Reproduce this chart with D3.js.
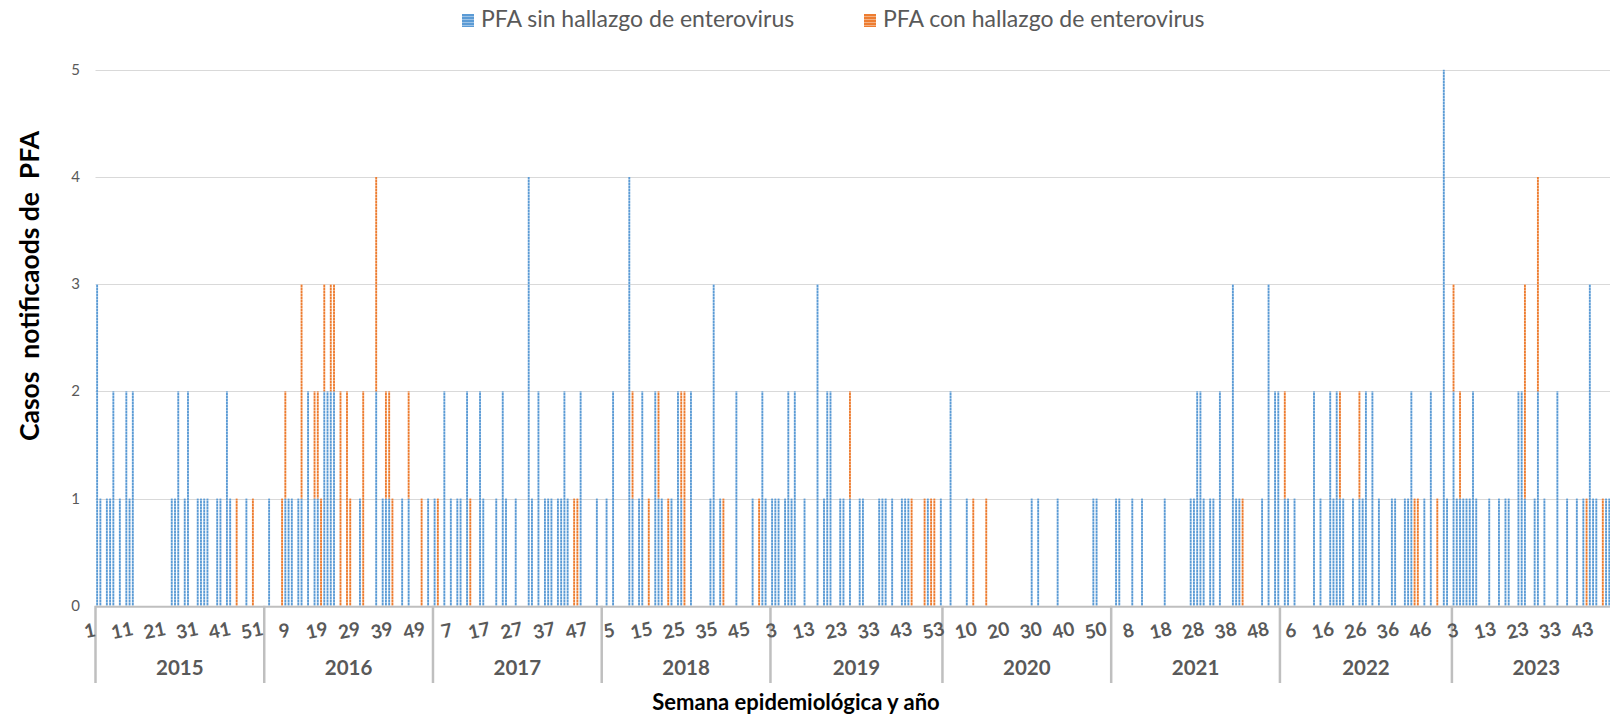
<!DOCTYPE html>
<html>
<head>
<meta charset="utf-8">
<script src="https://cdn.jsdelivr.net/npm/d3@7"></script>
<style>
  body { margin: 0; background: #fff; }
  text { font-family: Lato, "Open Sans", sans-serif; }
</style>
</head>
<body>
<div id="chart"></div>
<script>
// ======= weekly counts, one array per year (sin = without enterovirus, con = with enterovirus)
var years = ["2015", "2016", "2017", "2018", "2019", "2020", "2021", "2022", "2023"];

var sin2015 = [3,1,0,1,1,2,0,1,0,2, 1,2,0,0,0,0,0,0,0,0, 0,0,0,1,1,2,0,1,2,0, 0,1,1,1,1,0,0,1,1,0, 2,1,0,0,0,0,1,0,0,0, 0,0];
var con2015 = [0,0,0,0,0,0,0,0,0,0, 0,0,0,0,0,0,0,0,0,0, 0,0,0,0,0,0,0,0,0,0, 0,0,0,0,0,0,0,0,0,0, 0,0,0,1,0,0,0,0,1,0, 0,0];
var sin2016 = [0,1,0,0,0,0,1,1,1,0, 1,1,0,2,0,1,1,0,2,2, 2,2,0,0,0,0,0,0,0,1, 0,0,0,0,2,0,1,1,1,0, 0,0,1,0,1,0,0,0,0,0, 1,0];
var con2016 = [0,0,0,0,0,1,1,0,0,0, 0,2,0,0,0,1,1,1,1,0, 1,1,0,2,0,2,1,0,0,0, 2,0,0,0,2,0,0,1,1,1, 0,0,0,0,1,0,0,0,1,0, 0,0];
var sin2017 = [1,0,0,2,0,1,0,1,1,0, 2,0,0,0,2,1,0,0,0,1, 0,2,1,0,0,1,0,0,0,4, 1,0,2,0,1,1,1,0,1,1, 2,1,0,0,0,2,0,0,0,0, 1,0];
var con2017 = [0,1,0,0,0,0,0,0,0,0, 0,1,0,0,0,0,0,0,0,0, 0,0,0,0,0,0,0,0,0,0, 0,0,0,0,0,0,0,0,0,0, 0,0,0,1,1,0,0,0,0,0, 0,0];
var sin2018 = [0,1,0,2,0,0,0,0,4,1, 0,1,2,0,0,0,2,1,1,0, 0,1,0,2,1,0,0,2,0,0, 0,0,0,1,3,0,1,0,0,0, 0,2,0,0,0,0,1,0,0,2, 1,0];
var con2018 = [0,0,0,0,0,0,0,0,0,1, 0,0,0,0,1,0,0,1,0,0, 1,0,0,0,1,2,0,0,0,0, 0,0,0,0,0,0,0,1,0,0, 0,0,0,0,0,0,0,0,1,0, 0,0];
var sin2019 = [1,1,1,0,1,2,1,2,0,0, 1,0,0,0,3,0,1,2,2,0, 0,1,1,0,1,0,0,1,1,0, 0,0,0,1,1,1,0,1,0,0, 1,1,1,0,0,0,0,0,1,0, 0,0,1];
var con2019 = [0,0,0,0,0,0,0,0,0,0, 0,0,0,0,0,0,0,0,0,0, 0,0,0,0,1,0,0,0,0,0, 0,0,0,0,0,0,0,0,0,0, 0,0,0,1,0,0,0,1,0,1, 1,0,0];
var sin2020 = [0,0,2,0,0,0,0,1,0,0, 0,0,0,0,0,0,0,0,0,0, 0,0,0,0,0,0,0,1,0,1, 0,0,0,0,0,1,0,0,0,0, 0,0,0,0,0,0,1,1,0,0, 0,0];
var con2020 = [0,0,0,0,0,0,0,0,0,1, 0,0,0,1,0,0,0,0,0,0, 0,0,0,0,0,0,0,0,0,0, 0,0,0,0,0,0,0,0,0,0, 0,0,0,0,0,0,0,0,0,0, 0,0];
var sin2021 = [0,1,1,0,0,0,1,0,0,1, 0,0,0,0,0,0,1,0,0,0, 0,0,0,0,1,1,2,2,1,0, 1,1,0,2,0,0,0,3,1,1, 0,0,0,0,0,0,1,0,3,0, 2,2];
var con2021 = [0,0,0,0,0,0,0,0,0,0, 0,0,0,0,0,0,0,0,0,0, 0,0,0,0,0,0,0,0,0,0, 0,0,0,0,0,0,0,0,0,0, 1,0,0,0,0,0,0,0,0,0, 0,0];
var sin2022 = [0,1,1,0,1,0,0,0,0,0, 2,0,1,0,0,2,1,2,1,1, 0,0,1,0,1,1,2,0,2,0, 1,0,0,0,1,1,0,0,1,1, 2,0,0,0,1,0,2,0,0,0, 5,1,0];
var con2022 = [0,1,0,0,0,0,0,0,0,0, 0,0,0,0,0,0,0,0,1,0, 0,0,0,0,1,0,0,0,0,0, 0,0,0,0,0,0,0,0,0,0, 0,1,1,0,0,0,0,0,1,0, 0,0,0];
var sin2023 = [2,1,1,1,1,1,2,1,0,0, 0,1,0,0,1,0,1,1,0,0, 2,2,1,0,0,1,2,0,1,0, 0,0,2,0,0,1,0,0,1,0, 1,0,3,1,1,0,0,1,1,0, 0,0];
var con2023 = [1,0,1,0,0,0,0,0,0,0, 0,0,0,0,0,0,0,0,0,0, 0,0,2,0,0,0,2,0,0,0, 0,0,0,0,0,0,0,0,0,0, 0,1,0,0,0,0,1,0,0,0, 0,0];

var yTicks = [0, 1, 2, 3, 4, 5];
var seriesNames = ["PFA sin hallazgo de enterovirus", "PFA con hallazgo de enterovirus"];

var sinByYear = [sin2015, sin2016, sin2017, sin2018, sin2019, sin2020, sin2021, sin2022, sin2023];
var conByYear = [con2015, con2016, con2017, con2018, con2019, con2020, con2021, con2022, con2023];

// ======= flatten into one row per week
var rows = [];
var groups = [];
years.forEach(function(yr, i) {
  groups.push({ year: yr, start: rows.length, n: sinByYear[i].length });
  sinByYear[i].forEach(function(v, j) {
    rows.push({ idx: rows.length, year: yr, week: j + 1, sin: v, con: conByYear[i][j] });
  });
});

var W = 1610, H = 718;
var left = 95.5, step = 3.245;
var right = left + rows.length * step;
var y0 = 605.8, y5 = 69.8;

var svg = d3.select("#chart").append("svg")
  .attr("width", W)
  .attr("height", H);

// ======= striped fills like the original
var defs = svg.append("defs");
function makePattern(id, main, light) {
  var p = defs.append("pattern")
    .attr("id", id)
    .attr("patternUnits", "userSpaceOnUse")
    .attr("width", 4)
    .attr("height", 3);
  p.append("rect").attr("width", 4).attr("height", 3).attr("fill", main);
  p.append("rect").attr("y", 2).attr("width", 4).attr("height", 1).attr("fill", light);
}
makePattern("patBlue", "#5B9BD5", "#9DC3E6");
makePattern("patOrange", "#ED7D31", "#F4B183");
var fills = ["url(#patBlue)", "url(#patOrange)"];

var x = d3.scaleBand()
  .domain(rows.map(function(d) { return d.idx; }))
  .range([left, right])
  .paddingInner(0.42)
  .paddingOuter(0.21);

var y = d3.scaleLinear().domain([0, 5]).range([y0, y5]);

// ======= gridlines
svg.append("g").selectAll("line")
  .data(yTicks.filter(function(t) { return t > 0; }))
  .enter()
  .append("line")
  .attr("x1", left)
  .attr("x2", W)
  .attr("y1", function(d) { return Math.round(y(d)) + 0.5; })
  .attr("y2", function(d) { return Math.round(y(d)) + 0.5; })
  .attr("stroke", "#D9D9D9")
  .attr("stroke-width", 1.2);

// ======= y tick labels
svg.append("g").selectAll("text")
  .data(yTicks)
  .enter()
  .append("text")
  .text(function(d) { return d; })
  .attr("x", 80)
  .attr("y", function(d) { return y(d) + 5; })
  .attr("text-anchor", "end")
  .attr("fill", "#595959")
  .attr("font-size", "15px");

// ======= stacked bars
var stack = d3.stack().keys(["sin", "con"]);
var layers = stack(rows);

svg.append("g").selectAll("g")
  .data(layers)
  .enter()
  .append("g")
  .attr("fill", function(d, i) { return fills[i]; })
  .selectAll("rect")
  .data(function(d) { return d.filter(function(p) { return p[1] > p[0]; }); })
  .enter()
  .append("rect")
  .attr("x", function(d) { return x(d.data.idx); })
  .attr("width", x.bandwidth())
  .attr("y", function(d) { return y(d[1]); })
  .attr("height", function(d) { return y(d[0]) - y(d[1]); });

// ======= category axis (two levels: week / year)
svg.append("line")
  .attr("x1", left).attr("x2", W)
  .attr("y1", y0 + 1).attr("y2", y0 + 1)
  .attr("stroke", "#BFBFBF")
  .attr("stroke-width", 2);

var bounds = groups.map(function(g) { return left + g.start * step; });
bounds.push(right);
svg.append("g").selectAll("line")
  .data(bounds)
  .enter()
  .append("line")
  .attr("x1", function(d) { return d; })
  .attr("x2", function(d) { return d; })
  .attr("y1", y0)
  .attr("y2", 683)
  .attr("stroke", "#BFBFBF")
  .attr("stroke-width", 2.5);

svg.append("g").selectAll("text")
  .data(rows.filter(function(d) { return d.idx % 10 == 0; }))
  .enter()
  .append("text")
  .text(function(d) { return d.week; })
  .attr("transform", function(d) {
    var tx = x(d.idx) + x.bandwidth() / 2 - 6;
    return "translate(" + tx + ",637) rotate(-12)";
  })
  .attr("text-anchor", "middle")
  .attr("fill", "#595959")
  .attr("font-weight", "bold")
  .attr("font-size", "19px");

svg.append("g").selectAll("text")
  .data(groups)
  .enter()
  .append("text")
  .text(function(d) { return d.year; })
  .attr("x", function(d) { return left + (d.start + d.n / 2) * step; })
  .attr("y", 675)
  .attr("text-anchor", "middle")
  .attr("fill", "#595959")
  .attr("font-weight", "bold")
  .attr("font-size", "20.5px");

// ======= axis titles
svg.append("text")
  .text("Semana epidemiológica y año")
  .attr("x", 796)
  .attr("y", 710)
  .attr("text-anchor", "middle")
  .attr("font-weight", "bold")
  .attr("font-size", "22px")
  .attr("fill", "#000");

svg.append("text")
  .text("Casos  notificaods de  PFA")
  .style("white-space", "pre")
  .attr("transform", "translate(39,286) rotate(-90)")
  .attr("text-anchor", "middle")
  .attr("font-weight", "bold")
  .attr("font-size", "26.5px")
  .attr("fill", "#000");

// ======= legend
var legX = [462, 864];
var leg = svg.append("g").selectAll("g")
  .data(seriesNames)
  .enter()
  .append("g")
  .attr("transform", function(d, i) { return "translate(" + legX[i] + ",14)"; });
leg.append("rect")
  .attr("width", 12)
  .attr("height", 13)
  .attr("fill", function(d, i) { return fills[i]; });
leg.append("text")
  .text(function(d) { return d; })
  .attr("x", 19)
  .attr("y", 13)
  .attr("fill", "#595959")
  .attr("font-size", "23px");
</script>
</body>
</html>
